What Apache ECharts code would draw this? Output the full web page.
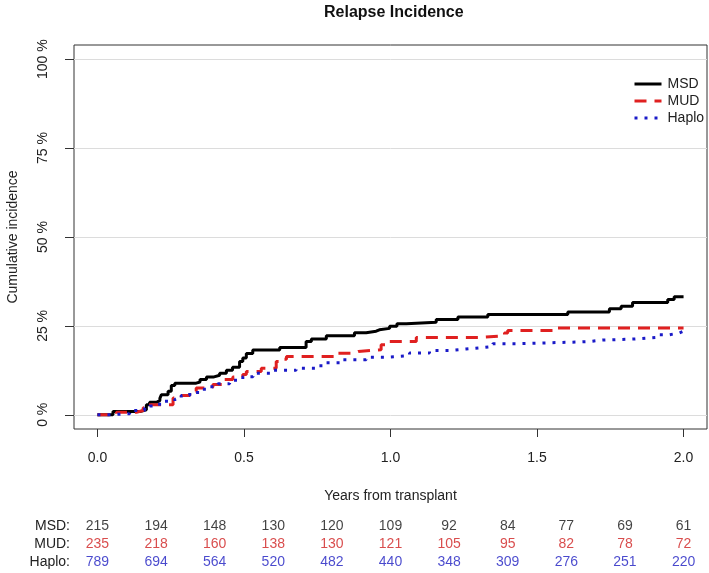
<!DOCTYPE html>
<html><head><meta charset="utf-8">
<script src="https://cdn.jsdelivr.net/npm/echarts@6/dist/echarts.min.js"></script>
<style>html,body{margin:0;padding:0;background:#fff}#c{width:709px;height:573px}</style>
</head><body><div id="c"></div>
<script>
// ---- data ----
const seriesNames = ['MSD', 'MUD', 'Haplo'];
const msdTime = [0,0.053,0.145,0.167,0.178,0.201,0.213,0.218,0.241,0.252,0.264,0.337,0.35,0.372,0.395,0.417,0.44,0.461,0.485,0.496,0.508,0.53,0.622,0.712,0.73,0.781,0.877,0.917,0.951,0.962,0.997,1.022,1.054,1.156,1.23,1.332,1.605,1.747,1.787,1.826,1.946,1.968,2.0];
const msdCI   = [0,0.9,1.4,2.8,3.5,4.0,4.6,5.6,6.6,8.2,8.9,9.2,9.9,10.6,11.1,11.7,12.5,13.4,15.0,16.0,17.2,18.2,18.9,20.6,21.3,22.2,23.1,23.5,23.9,24.3,24.9,25.6,26.0,26.8,27.5,28.2,28.9,29.8,30.5,31.6,32.4,33.2,33.2];
const mudTime = [0,0.065,0.133,0.156,0.172,0.258,0.286,0.315,0.337,0.377,0.394,0.434,0.462,0.496,0.508,0.559,0.61,0.633,0.645,0.815,0.877,0.89,0.968,0.985,1.088,1.30,1.389,1.40,1.559,2.0];
const mudCI   = [0,0.7,1.2,2.0,2.8,4.7,5.4,6.6,7.5,7.8,8.5,9.9,10.6,11.3,12.2,13.1,15.0,15.6,16.4,17.3,17.8,18.3,19.7,20.6,21.7,22.2,23.0,23.7,24.4,24.4];
const haploTime = [0,0.042,0.11,0.161,0.178,0.212,0.264,0.286,0.315,0.349,0.383,0.411,0.451,0.496,0.531,0.6,0.678,0.746,0.781,0.837,0.917,0.985,1.065,1.133,1.201,1.258,1.304,1.349,1.429,1.61,1.678,1.723,1.83,1.917,1.951,1.985,2.0];
const haploCI   = [0,0.3,1.2,1.9,2.5,3.8,4.4,5.4,6.3,7.2,7.9,8.7,9.7,10.7,11.7,12.5,13.1,13.8,14.6,15.5,16.2,16.6,17.4,18.1,18.5,18.8,19.2,20.0,20.4,20.6,21.0,21.3,21.8,22.5,23.0,23.5,23.5];
const xTicks = [0, 0.5, 1, 1.5, 2];
const yTicks = [0, 25, 50, 75, 100];
const riskTimes = [0,0.2,0.4,0.6,0.8,1.0,1.2,1.4,1.6,1.8,2.0];
const riskMSD   = [215,194,148,130,120,109,92,84,77,69,61];
const riskMUD   = [235,218,160,138,130,121,105,95,82,78,72];
const riskHaplo = [789,694,564,520,482,440,348,309,276,251,220];

// ---- chart ----
const FONT = '"Liberation Sans", Arial, sans-serif';
const colors = {MSD: '#000000', MUD: '#e02020', Haplo: '#1a1ac8'};
const tableColors = {MSD: '#111111', MUD: '#d02020', Haplo: '#1c1cc0'};
const zip = (a, b) => a.map((t, i) => [t, b[i]]);

const lineSeries = [
  {name: 'MSD', data: zip(msdTime, msdCI), lineStyle: {color: colors.MSD, width: 3, type: 'solid'}, z: 3},
  {name: 'MUD', data: zip(mudTime, mudCI), lineStyle: {color: colors.MUD, width: 3, type: [12, 8]}, z: 4},
  {name: 'Haplo', data: zip(haploTime, haploCI), lineStyle: {color: colors.Haplo, width: 3, type: [3, 7]}, z: 5}
].map(s => Object.assign({
  type: 'line', step: 'end', symbol: 'none', xAxisIndex: 0, yAxisIndex: 0,
  itemStyle: {color: s.lineStyle.color}, animation: false
}, s));

const riskRows = {MSD: riskMSD, MUD: riskMUD, Haplo: riskHaplo};
const riskSeries = seriesNames.map(n => ({
  type: 'scatter', xAxisIndex: 1, yAxisIndex: 1, symbolSize: 0, silent: true,
  itemStyle: {color: tableColors[n]},
  data: riskTimes.map((t, i) => [t, n, riskRows[n][i]]),
  label: {show: true, position: 'inside', formatter: p => String(p.value[2]),
          color: tableColors[n], textBorderWidth: 0, fontSize: 14, fontFamily: FONT},
  animation: false
}));

const chart = echarts.init(document.getElementById('c'), null, {renderer: 'canvas'});
chart.setOption({
  backgroundColor: '#ffffff',
  animation: false,
  title: {text: 'Relapse Incidence', left: 319, top: 0,
          textStyle: {fontSize: 16, fontWeight: 'bold', color: '#111', fontFamily: FONT}},
  legend: {
    data: seriesNames, orient: 'vertical', left: 628, top: 72, itemGap: 3,
    itemWidth: 27, itemHeight: 14, selectedMode: false,
    itemStyle: {opacity: 0},
    lineStyle: {width: 3},
    textStyle: {fontSize: 14, color: '#222', fontFamily: FONT, padding: [0, 0, 0, 1]}
  },
  grid: [
    {left: 74, right: 2, top: 45, bottom: 144, show: true, borderColor: '#333', borderWidth: 1,
     containLabel: false, outerBoundsMode: 'none'},
    {left: 74, right: 2, top: 517, height: 54, show: false, outerBoundsMode: 'none'}
  ],
  xAxis: [
    {type: 'value', gridIndex: 0, min: -0.08, max: 2.08,
     name: 'Years from transplant', nameLocation: 'middle', nameGap: 60,
     nameTextStyle: {fontSize: 14, color: '#222', fontFamily: FONT},
     axisLine: {show: false, onZero: false},
     axisTick: {show: true, customValues: xTicks, length: 8, lineStyle: {color: '#333'}},
     axisLabel: {customValues: xTicks, formatter: v => v.toFixed(1), margin: 22,
                 fontSize: 14, color: '#222', fontFamily: FONT},
     splitLine: {show: false}},
    {type: 'value', gridIndex: 1, min: -0.08, max: 2.08, show: false}
  ],
  yAxis: [
    {type: 'value', gridIndex: 0, min: -4, max: 104,
     name: 'Cumulative incidence', nameLocation: 'middle', nameGap: 54, nameRotate: 90,
     nameTextStyle: {fontSize: 14, color: '#222', fontFamily: FONT},
     axisLine: {show: false, onZero: false},
     axisTick: {show: true, customValues: yTicks, length: 9, lineStyle: {color: '#333'}},
     axisLabel: {customValues: yTicks, formatter: v => v + ' %', rotate: 90, margin: 24,
                 fontSize: 14, color: '#222', fontFamily: FONT},
     splitLine: {show: true, lineStyle: {color: '#dcdcdc', width: 1}}},
    {type: 'category', gridIndex: 1, data: ['Haplo', 'MUD', 'MSD'],
     axisLine: {show: false}, axisTick: {show: false}, splitLine: {show: false},
     axisLabel: {interval: 0, formatter: v => v + ':', margin: 4, fontSize: 14, color: '#222', fontFamily: FONT}}
  ],
  series: lineSeries.concat(riskSeries)
});
</script>
</body></html>
